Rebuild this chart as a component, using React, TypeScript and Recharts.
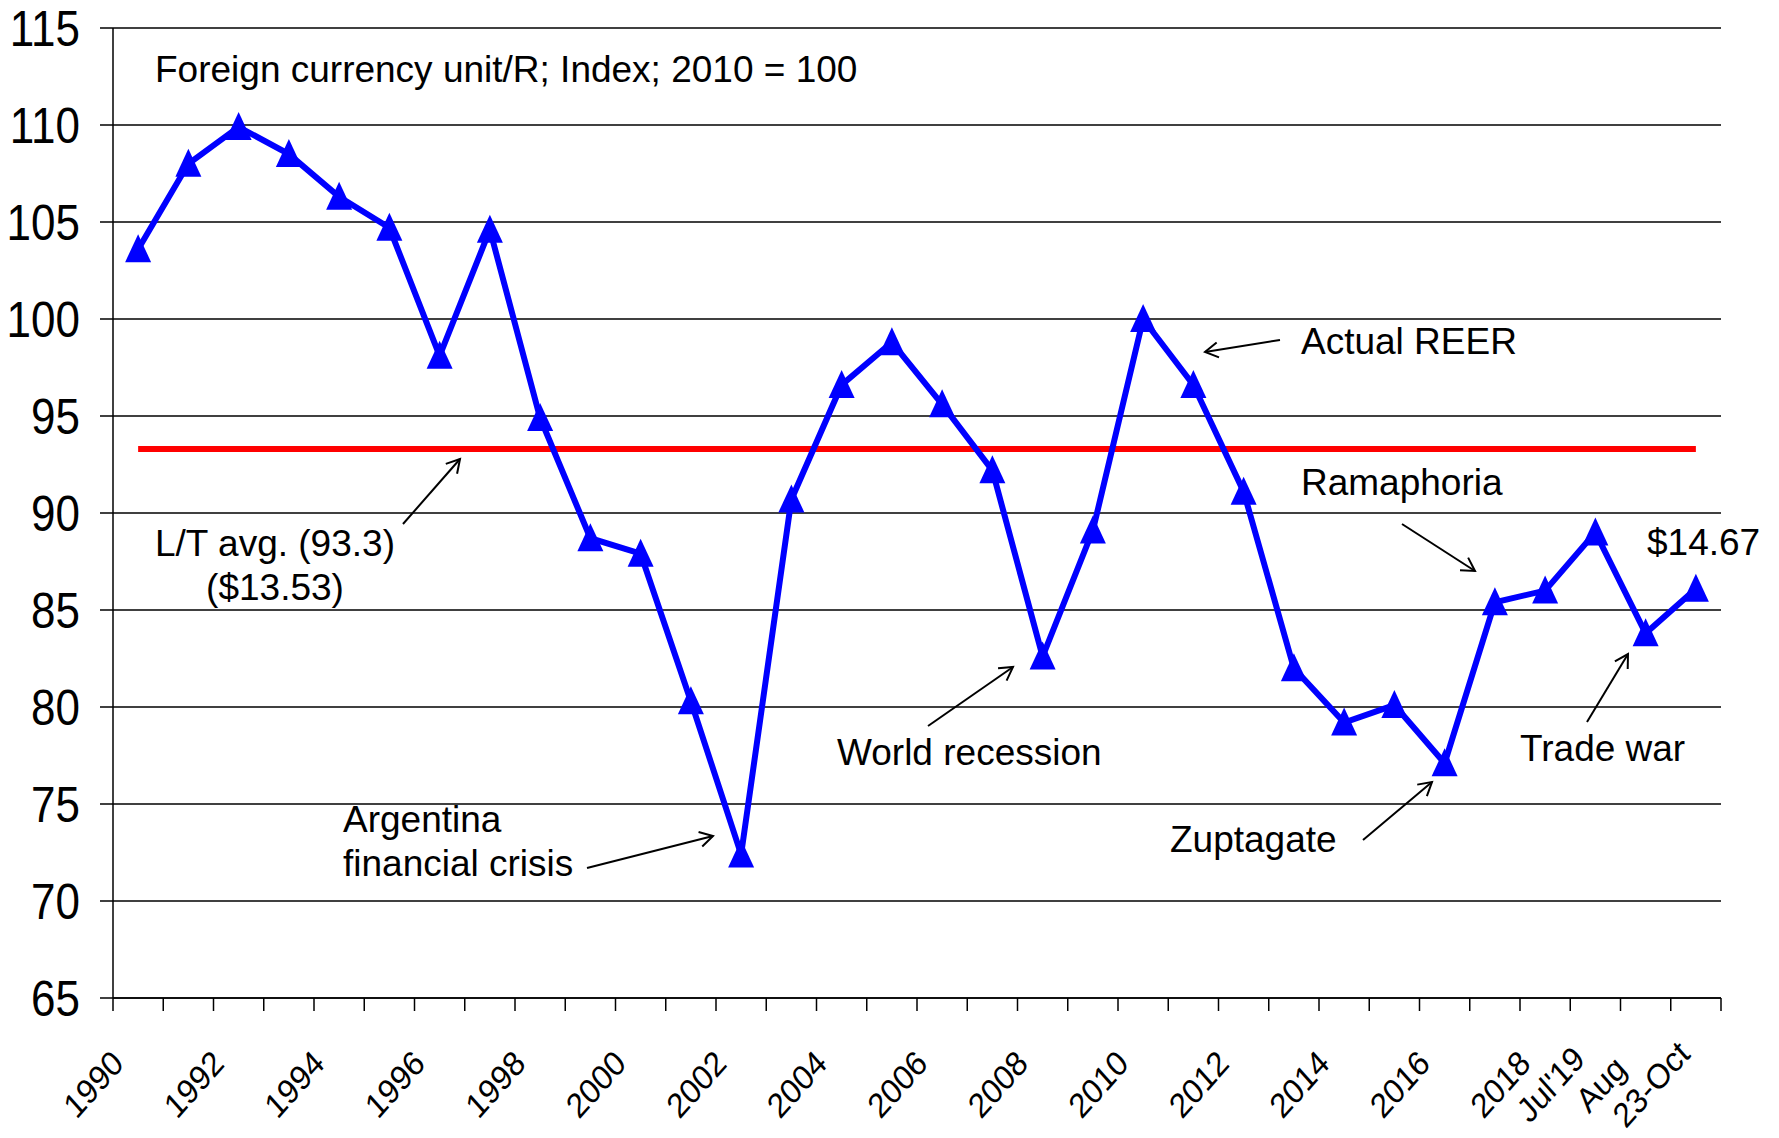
import {
    CartesianGrid,
    Customized,
    Line,
    LineChart,
    ReferenceLine,
    XAxis,
    YAxis,
} from "recharts";

const categories = [
    "1990", "1991", "1992", "1993", "1994", "1995", "1996", "1997", "1998", "1999",
    "2000", "2001", "2002", "2003", "2004", "2005", "2006", "2007", "2008", "2009",
    "2010", "2011", "2012", "2013", "2014", "2015", "2016", "2017", "2018",
    "Jul'19", "Aug", "23-Oct",
];

const tickLabels = [
    "1990", "", "1992", "", "1994", "", "1996", "", "1998", "",
    "2000", "", "2002", "", "2004", "", "2006", "", "2008", "",
    "2010", "", "2012", "", "2014", "", "2016", "", "2018",
    "Jul'19", "Aug", "23-Oct",
];

const reer = [
    103.6, 108.0, 109.9, 108.5, 106.3, 104.7, 98.1, 104.6, 94.9, 88.7,
    87.9, 80.3, 72.4, 90.7, 96.6, 98.8, 95.6, 92.2, 82.6, 89.1,
    100.0, 96.6, 91.1, 82.0, 79.2, 80.1, 77.1, 85.4, 86.0,
    89.0, 83.8, 86.1,
];

const yTicks = [65, 70, 75, 80, 85, 90, 95, 100, 105, 110, 115];
const longTermAvg = 93.3;

const data = categories.map((cat, i) => ({ cat, reer: reer[i] }));

// layout
const W = 1779;
const H = 1138;
const PLOT_LEFT = 113;
const PLOT_RIGHT = 1721;
const PLOT_TOP = 28;
const PLOT_BOTTOM = 998;
const BAND = (PLOT_RIGHT - PLOT_LEFT) / categories.length;
const FONT = "'Liberation Sans', Arial, Helvetica, sans-serif";

function XTick(props: any) {
    const { x, payload } = props;
    const i = categories.indexOf(payload.value);
    const last = i === categories.length - 1;
    return (
        <g>
            <line x1={x - BAND / 2} y1={PLOT_BOTTOM} x2={x - BAND / 2} y2={PLOT_BOTTOM + 13} stroke="#000" strokeWidth={1.5} />
            {last && (
                <line x1={x + BAND / 2} y1={PLOT_BOTTOM} x2={x + BAND / 2} y2={PLOT_BOTTOM + 13} stroke="#000" strokeWidth={1.5} />
            )}
            {/* labels are centred on a point below-left of the band centre */}
            <text
                transform={`translate(${x - 45},${PLOT_BOTTOM + 86}) scale(1,1.12) rotate(-45)`}
                textAnchor="middle"
                dy={11}
                fontSize={31}
                fontFamily={FONT}
                fill="#000"
            >
                {tickLabels[i]}
            </text>
        </g>
    );
}

function YTick(props: any) {
    const { x, y, payload } = props;
    return (
        <text
            transform={`translate(${x},${y}) scale(1,1.15)`}
            dy={16}
            textAnchor="end"
            fontSize={44}
            fontFamily={FONT}
            fill="#000"
        >
            {payload.value}
        </text>
    );
}

function Triangle(props: any) {
    const { cx, cy, index } = props;
    if (cx == null || cy == null) return null;
    return (
        <path
            key={`tri-${index}`}
            d={`M${cx},${cy - 15} L${cx + 13},${cy + 13} L${cx - 13},${cy + 13} Z`}
            fill="#0000ff"
        />
    );
}

function Arrow({ x1, y1, x2, y2 }: { x1: number; y1: number; x2: number; y2: number }) {
    const a = Math.atan2(y2 - y1, x2 - x1);
    const len = 15;
    const spread = Math.PI / 6;
    const ax = x2 - len * Math.cos(a - spread);
    const ay = y2 - len * Math.sin(a - spread);
    const bx = x2 - len * Math.cos(a + spread);
    const by = y2 - len * Math.sin(a + spread);
    return (
        <g stroke="#000" strokeWidth={2} fill="none">
            <line x1={x1} y1={y1} x2={x2} y2={y2} />
            <polyline points={`${ax},${ay} ${x2},${y2} ${bx},${by}`} />
        </g>
    );
}

function Annotations() {
    const t = { fontSize: 37, fontFamily: FONT, fill: "#000" };
    return (
        <g>
            <text x={155} y={82} {...t}>Foreign currency unit/R; Index; 2010 = 100</text>

            <text x={1301} y={354} {...t}>Actual REER</text>
            <Arrow x1={1280} y1={340} x2={1205} y2={352} />

            <text x={1301} y={495} {...t}>Ramaphoria</text>
            <Arrow x1={1402} y1={524} x2={1475} y2={571} />

            <text x={1647} y={555} {...t}>$14.67</text>

            <text x={275} y={556} textAnchor="middle" {...t}>L/T avg. (93.3)</text>
            <text x={275} y={600} textAnchor="middle" {...t}>($13.53)</text>
            <Arrow x1={403} y1={524} x2={460} y2={459} />

            <text x={343} y={832} {...t}>Argentina</text>
            <text x={343} y={876} {...t}>financial crisis</text>
            <Arrow x1={587} y1={868} x2={713} y2={836} />

            <text x={837} y={765} {...t}>World recession</text>
            <Arrow x1={928} y1={726} x2={1013} y2={667} />

            <text x={1170} y={852} {...t}>Zuptagate</text>
            <Arrow x1={1363} y1={840} x2={1432} y2={782} />

            <text x={1520} y={761} {...t}>Trade war</text>
            <Arrow x1={1587} y1={722} x2={1628} y2={654} />
        </g>
    );
}

export default function App() {
    return (
        <div style={{ position: "absolute", left: 0, top: 0, width: W, height: H, background: "#fff" }}>
            <LineChart
                width={W}
                height={H}
                data={data}
                margin={{ top: PLOT_TOP, right: W - PLOT_RIGHT, bottom: H - PLOT_BOTTOM - 100, left: PLOT_LEFT - 100 }}
            >
                <CartesianGrid horizontal vertical={false} stroke="#000" strokeWidth={1.5} />
                <XAxis
                    dataKey="cat"
                    interval={0}
                    height={100}
                    padding={{ left: BAND / 2, right: BAND / 2 }}
                    tickLine={false}
                    axisLine={{ stroke: "#000", strokeWidth: 1.5 }}
                    tick={<XTick />}
                />
                <YAxis
                    domain={[65, 115]}
                    ticks={yTicks}
                    interval={0}
                    width={100}
                    tickSize={13}
                    tickMargin={20}
                    tickLine={{ stroke: "#000", strokeWidth: 1.5 }}
                    axisLine={{ stroke: "#000", strokeWidth: 1.5 }}
                    tick={<YTick />}
                />
                <ReferenceLine
                    segment={[
                        { x: categories[0], y: longTermAvg },
                        { x: categories[categories.length - 1], y: longTermAvg },
                    ]}
                    stroke="#ff0000"
                    strokeWidth={6}
                />
                <Line
                    dataKey="reer"
                    stroke="#0000ff"
                    strokeWidth={6}
                    dot={Triangle}
                    activeDot={false}
                    isAnimationActive={false}
                />
                <Customized component={<Annotations />} />
            </LineChart>
        </div>
    );
}
